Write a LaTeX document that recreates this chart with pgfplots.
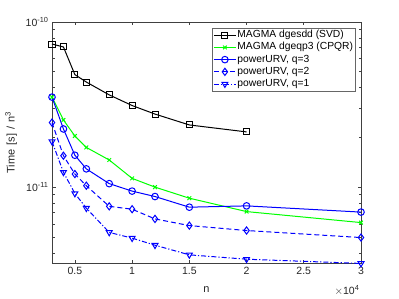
\documentclass[border=0pt]{standalone}
\usepackage{pgfplots}
\pgfplotsset{compat=1.18}
\usepackage{fontspec}
\setmainfont{Liberation Sans}
\definecolor{axgray}{gray}{0.25}
\begin{document}
\fontsize{10bp}{12bp}\selectfont
\begin{tikzpicture}
\path[use as bounding box] (0,0) rectangle (399bp,299bp);
\begin{axis}[
  at={(52bp,36bp)}, anchor=south west,
  scale only axis, width=309bp, height=241bp,
  xmin=3000, xmax=30000,
  ymode=log, ymin=3.47e-12, ymax=1e-10,
  xtick={5000,10000,15000,20000,25000,30000},
  xticklabels={0.5,1,1.5,2,2.5,3},
  scaled x ticks=false,
  ytick={1e-11,1e-10},
  yticklabels={10\textsuperscript{-11},10\textsuperscript{-10}},
  minor ytick={4e-12,5e-12,6e-12,7e-12,8e-12,9e-12,2e-11,3e-11,4e-11,5e-11,6e-11,7e-11,8e-11,9e-11},
  tick align=inside,
  major tick length=3.5bp, minor tick length=2.5bp,
  axis line style={axgray, line width=0.6bp},
  every tick/.style={axgray, line width=0.6bp},
  every minor tick/.style={axgray, line width=0.5bp},
  tick label style={font=\fontsize{10.5bp}{12bp}\selectfont, text=black!85},
  xticklabel style={yshift=-0.5bp},
  xlabel={n},
  label style={font=\fontsize{11bp}{13bp}\selectfont, text=black!85},
  xlabel style={at={(axis description cs:0.5,0)}, anchor=center, yshift=-27bp},
  clip=false,
  legend cell align=left,
  legend style={at={(rel axis cs:0.981,0.975)}, anchor=north east,
    draw=black!60, line width=0.6bp, fill=white, inner sep=0.8bp, row sep=0pt,
    font=\fontsize{10.3bp}{12bp}\selectfont,
    nodes={inner sep=1bp, text height=7.6bp, text depth=2.6bp}},
  legend image code/.code={\draw[mark repeat=2,mark phase=2,#1] plot coordinates {(0bp,0bp)(11bp,0bp)(22bp,0bp)};},
  every axis plot/.append style={line width=1bp, mark size=3bp, mark options={solid}},
]
\addplot[black, mark=square] coordinates {
(3000,7.36e-11)(4000,7.06e-11)(5000,4.80e-11)(6000,4.33e-11)(8000,3.62e-11)(10000,3.12e-11)(12000,2.77e-11)(15000,2.38e-11)(20000,2.16e-11)};
\addlegendentry{MAGMA dgesdd (SVD)}
\addplot[green, mark=x, mark size=2.6bp] coordinates {
(3000,3.51e-11)(4000,2.55e-11)(5000,2.04e-11)(6000,1.74e-11)(8000,1.46e-11)(10000,1.13e-11)(12000,1.0e-11)(15000,8.57e-12)(20000,7.11e-12)(30000,6.1e-12)};
\addlegendentry{MAGMA dgeqp3 (CPQR)}
\addplot[blue, mark=o, mark size=3.3bp] coordinates {
(3000,3.51e-11)(4000,2.25e-11)(5000,1.56e-11)(6000,1.29e-11)(8000,1.05e-11)(10000,9.46e-12)(12000,8.77e-12)(15000,7.56e-12)(20000,7.7e-12)(30000,7.06e-12)};
\addlegendentry{powerURV, q=3}
\addplot[blue, dash pattern=on 5bp off 3bp, mark=diamond, mark size=3.6bp] coordinates {
(3000,2.46e-11)(4000,1.55e-11)(5000,1.2e-11)(6000,1.02e-11)(8000,7.65e-12)(10000,7.35e-12)(12000,6.42e-12)(15000,5.85e-12)(20000,5.46e-12)(30000,4.95e-12)};
\addlegendentry{powerURV, q=2}
\addplot[blue, dash pattern=on 5bp off 2bp on 1.2bp off 2bp, mark=triangle, mark size=3.4bp, mark options={solid, rotate=180}] coordinates {
(3000,1.89e-11)(4000,1.23e-11)(5000,9.15e-12)(6000,7.46e-12)(8000,5.32e-12)(10000,4.91e-12)(12000,4.45e-12)(15000,3.89e-12)(20000,3.66e-12)(30000,3.45e-12)};
\addlegendentry{powerURV, q=1}
\node[font=\fontsize{10.5bp}{12bp}\selectfont, text=black!85] at (rel axis cs:1,0) [xshift=-14bp, yshift=-27bp] {$\times$10\textsuperscript{4}};
\node[font=\fontsize{11bp}{13bp}\selectfont, text=black!85, rotate=90, anchor=center] at (rel axis cs:0,0.5) [yshift=41bp] {Time\hspace{4bp}[s]\hspace{4bp}/\hspace{4bp}n\textsuperscript{3}};
\end{axis}
\end{tikzpicture}
\end{document}
